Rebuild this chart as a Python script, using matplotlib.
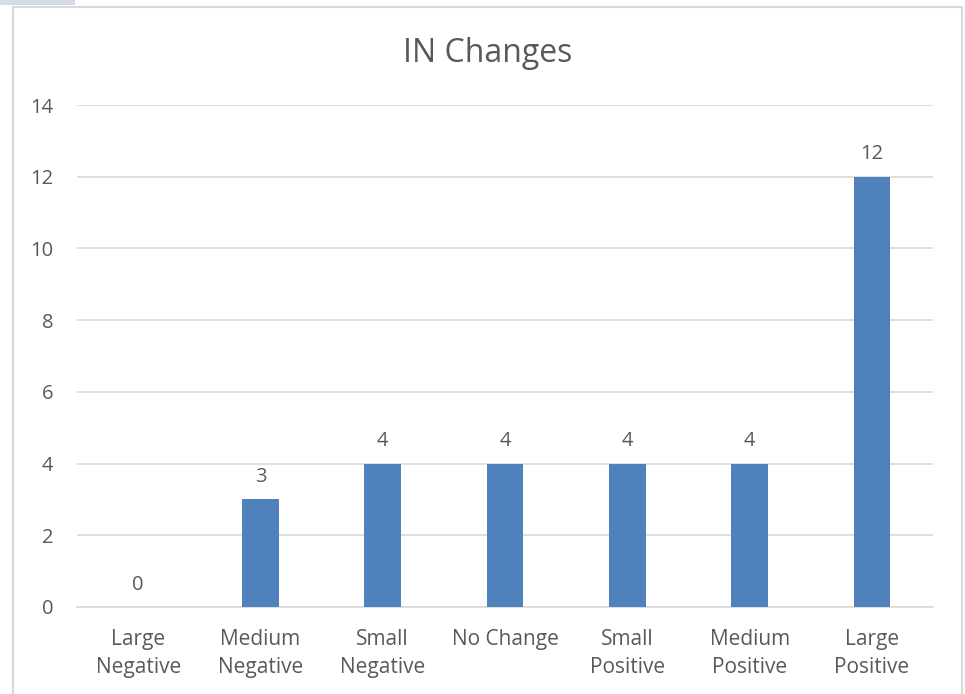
import matplotlib.pyplot as plt
from matplotlib.patches import Rectangle

categories = ["Large\nNegative", "Medium\nNegative", "Small\nNegative", "No Change",
              "Small\nPositive", "Medium\nPositive", "Large\nPositive"]
counts = [0, 3, 4, 4, 4, 4, 12]
yticks = [0, 2, 4, 6, 8, 10, 12, 14]

barColor = "#4F81BD"
textColor = "#595959"
gridColor = "#D9D9D9"

plt.rcParams["font.family"] = ["Open Sans", "DejaVu Sans"]

fig = plt.figure(figsize=(9.65, 6.94), dpi=100)
ax = fig.add_axes([77 / 965, 1 - 607 / 694, (933 - 77) / 965, (607 - 105) / 694])

x = range(len(categories))
ax.bar(x, counts, width=0.3, color=barColor, zorder=3)
for xi, v in zip(x, counts):
    ax.annotate(str(v), (xi, v), xytext=(0, 9), textcoords="offset points",
                ha="center", va="bottom", fontsize=14.5, color=textColor)

ax.set_xlim(-0.5, len(categories) - 0.5)
ax.set_ylim(0, 14)
ax.set_yticks(yticks)
ax.set_xticks(list(x))
ax.set_xticklabels(categories, fontsize=15, color=textColor, linespacing=1.45)
ax.tick_params(axis="y", labelsize=14.5, labelcolor=textColor, length=0, pad=17)
ax.tick_params(axis="x", length=0, pad=16)
ax.yaxis.grid(True, color=gridColor, linewidth=1.2, zorder=0)
for side in ["top", "right", "left"]:
    ax.spines[side].set_visible(False)
ax.spines["bottom"].set_color(gridColor)
ax.spines["bottom"].set_linewidth(1.2)

fig.text(488 / 965, 1 - 53 / 694, "IN Changes", ha="center", va="center",
         fontsize=23, color=textColor)

# chart frame and the small tab above it
fig.patches.append(Rectangle((12.5 / 965, -0.05), (962 - 12.5) / 965, 1.05 - 6.5 / 694,
                             transform=fig.transFigure, fill=False,
                             edgecolor=gridColor, linewidth=1.5))
fig.patches.append(Rectangle((0, 1 - 5 / 694), 75 / 965, 5 / 694,
                             transform=fig.transFigure, facecolor="#D5DBE9",
                             edgecolor="none"))

fig.savefig("out.png", dpi=100)
